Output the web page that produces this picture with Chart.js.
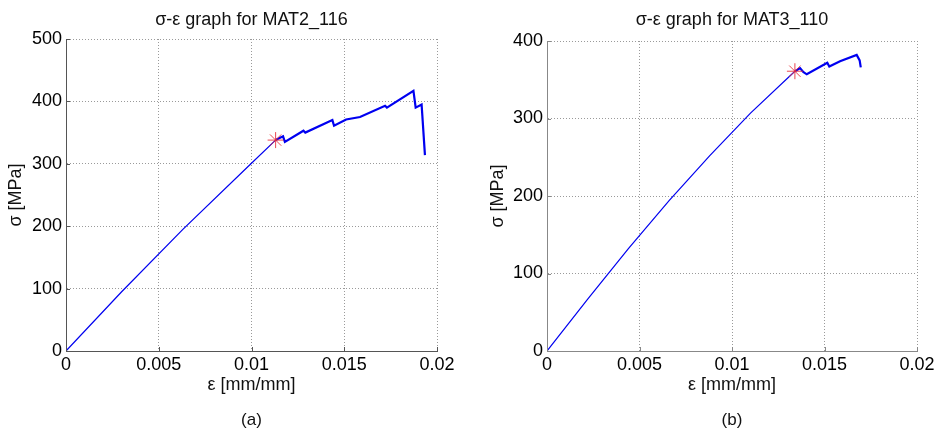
<!DOCTYPE html>
<html><head><meta charset="utf-8">
<script src="https://cdn.jsdelivr.net/npm/chart.js@4/dist/chart.umd.min.js"></script>
<style>
html,body{margin:0;padding:0;background:#fff;}
#wrap{position:relative;width:940px;height:433px;overflow:hidden;}
canvas{position:absolute;top:0;}
#ca{left:0}
#cb{left:470px}
</style></head><body>
<div id="wrap"><canvas id="ca" width="470" height="433"></canvas><canvas id="cb" width="470" height="433"></canvas></div>
<script>
// ---- data (a) MAT2_116 ----
const strainA = [0, 0.0030, 0.0063, 0.0099, 0.0113, 0.0117, 0.0118, 0.0128, 0.0129, 0.01436, 0.01445, 0.0151, 0.01585, 0.0172, 0.0173, 0.01873, 0.01885, 0.01917, 0.01935];
const stressA = [0, 95, 195, 298, 338, 344, 335, 353, 350, 370, 361, 371, 375, 393, 390, 417, 390, 395, 314];
const yieldStrainA = [0.0113];
const yieldStressA = [338];
// ---- data (b) MAT3_110 ----
const strainB = [0, 0.0022, 0.0044, 0.0066, 0.0088, 0.0110, 0.0134, 0.01368, 0.01385, 0.01404, 0.01515, 0.01526, 0.01584, 0.01674, 0.0169, 0.01696];
const stressB = [0, 67, 132, 194, 252, 307, 361, 365, 360, 357, 372, 367, 374, 382, 375, 366];
const yieldStrainB = [0.0134];
const yieldStressB = [361];
// ---- labels ----
const xTickLabels = ['0', '0.005', '0.01', '0.015', '0.02'];
const yTickLabelsA = ['0', '100', '200', '300', '400', '500'];
const yTickLabelsB = ['0', '100', '200', '300', '400'];
const titleA = 'σ-ε graph for MAT2_116';
const titleB = 'σ-ε graph for MAT3_110';
const captionA = '(a)';
const captionB = '(b)';
const xAxisTitle = 'ε [mm/mm]';
const yAxisTitle = 'σ [MPa]';

const FONT = "'Liberation Sans', Arial, 'DejaVu Sans', sans-serif";

const inwardTicks = {
  id: 'inwardTicks',
  afterDraw(chart, args, opts) {
    const {ctx, chartArea: a, scales: {x, y}} = chart;
    ctx.save();
    ctx.strokeStyle = opts.color;
    ctx.lineWidth = 1;
    ctx.beginPath();
    x.ticks.forEach(t => { const px = Math.round(x.getPixelForValue(t.value)) + 0.5; ctx.moveTo(px, a.bottom); ctx.lineTo(px, a.bottom - 4); });
    y.ticks.forEach(t => { const py = Math.round(y.getPixelForValue(t.value)) + 0.5; ctx.moveTo(a.left, py); ctx.lineTo(a.left + 4, py); });
    ctx.stroke();
    ctx.restore();
  }
};

function makeChart(id, xs, ys, yx, yy, yMax, yLabels, title, caption, L) {
  const pts = xs.map((v, i) => ({x: v, y: ys[i]}));
  const star = yx.map((v, i) => ({x: v, y: yy[i]}));
  const yieldX = yx[0];
  return new Chart(document.getElementById(id), {
    type: 'scatter',
    data: {datasets: [
      {data: pts, showLine: true, borderColor: '#0000f0', backgroundColor: '#0000f0', pointRadius: 0, tension: 0,
       borderWidth: 1.2,
       segment: {borderWidth: ctx => ctx.p0.parsed.x >= yieldX - 1e-9 ? 2.2 : 1.2}, order: 2},
      {data: star, showLine: false, pointStyle: 'star', pointRadius: 8, borderColor: 'rgba(230,40,50,0.85)', backgroundColor: 'rgba(230,40,50,0.85)', borderWidth: 1, order: 1}
    ]},
    options: {
      responsive: false, animation: false, events: [],
      layout: {padding: {left: 0, right: L.padRight, top: 0, bottom: 0}},
      plugins: {
        legend: {display: false}, tooltip: {enabled: false},
        title: {display: true, text: title, fullSize: false, color: '#111', font: {family: FONT, size: 18, weight: 'normal'}, padding: {top: 9, bottom: L.titleBottom}},
        subtitle: {display: true, text: caption, position: 'bottom', fullSize: false, color: '#111', font: {family: FONT, size: 17, weight: 'normal'}, padding: {top: 14, bottom: 2.6}},
        inwardTicks: {color: L.axisColor}
      },
      scales: {
        x: {type: 'linear', min: 0, max: 0.02,
          afterFit: s => { s.height = 45; },
          ticks: {stepSize: 0.005, padding: 3, color: '#000', font: {family: FONT, size: 18}, maxRotation: 0,
            callback: (v, i) => xTickLabels[i]},
          grid: {color: '#9a9a9a', lineWidth: 1, drawTicks: false},
          border: {display: true, color: L.axisColor, width: 1, dash: [1, 2]},
          title: {display: true, text: xAxisTitle, color: '#111', font: {family: FONT, size: 18}, padding: {top: 0, bottom: 0}}
        },
        y: {type: 'linear', min: 0, max: yMax,
          afterFit: s => { s.width = L.yWidth; },
          ticks: {stepSize: 100, padding: 4, color: '#000', font: {family: FONT, size: 18},
            callback: (v, i) => yLabels[i]},
          grid: {color: '#9a9a9a', lineWidth: 1, drawTicks: false},
          border: {display: true, color: L.axisColor, width: 1, dash: [1, 2]},
          title: {display: true, text: yAxisTitle, color: '#111', font: {family: FONT, size: 18}, padding: {top: L.yTitlePad, bottom: 0}}
        }
      }
    },
    plugins: [inwardTicks]
  });
}

makeChart('ca', strainA, stressA, yieldStrainA, yieldStressA, 500, yTickLabelsA, titleA, captionA,
  {padRight: 33, yWidth: 66, yTitlePad: 5, titleBottom: 8.4, axisColor: '#555'});
makeChart('cb', strainB, stressB, yieldStrainB, yieldStressB, 400, yTickLabelsB, titleB, captionB,
  {padRight: 23, yWidth: 77, yTitlePad: 17, titleBottom: 10.4, axisColor: '#888'});
</script>
</body></html>
